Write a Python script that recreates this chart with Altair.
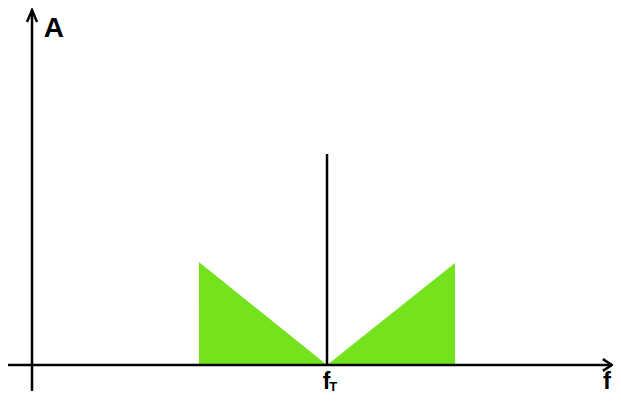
import altair as alt
import pandas as pd

# Logical units: frequency in multiples of fT, amplitude relative to the carrier line
fT = 1.0
carrier_amp = 1.0
# sideband triangles
left_f = [0.566, 1.0]
left_a = [0.488, 0.0]
right_f = [1.0, 1.434]
right_a = [0.0, 0.483]

# axes (with arrow heads)
x_axis_u = [-0.085, 1.966]
y_axis_v = [-0.123, 1.682]
x_head_u = [1.935, 1.966, 1.935]
x_head_v = [0.028, 0.0, -0.028]
y_head_u = [-0.017, 0.0, 0.017]
y_head_v = [1.626, 1.682, 1.626]

labels = ["A", "f", "f", "T"]
label_u = [0.040, 1.936, 0.986, 1.008]
label_v = [1.556, -0.112, -0.112, -0.121]
label_size = [28, 24, 23, 13]

X = alt.Scale(domain=[-0.0814, 1.9695])
Y = alt.Scale(domain=[-0.1422, 1.692])

tri = pd.DataFrame({
    "f": left_f + right_f,
    "a": left_a + right_a,
    "g": ["L", "L", "R", "R"],
})

segs = []
def add(name, us, vs):
    for i, (u, v) in enumerate(zip(us, vs)):
        segs.append({"seg": name, "i": i, "u": u, "v": v})

add("xaxis", x_axis_u, [0.0, 0.0])
add("yaxis", [0.0, 0.0], y_axis_v)
add("xhead", x_head_u, x_head_v)
add("yhead", y_head_u, y_head_v)
add("carrier", [fT, fT], [0.0, carrier_amp])
lines = pd.DataFrame(segs)

txt = pd.DataFrame({"t": labels, "u": label_u, "v": label_v, "s": label_size})

area = alt.Chart(tri).mark_area(color="#74E31E", opacity=1).encode(
    x=alt.X("f:Q", scale=X, axis=None),
    y=alt.Y("a:Q", scale=Y, axis=None, stack=None),
    detail="g:N",
)

line = alt.Chart(lines).mark_line(color="black", strokeWidth=2.5, strokeCap="butt").encode(
    x=alt.X("u:Q", scale=X, axis=None),
    y=alt.Y("v:Q", scale=Y, axis=None),
    detail="seg:N",
    order="i:O",
)

text = alt.Chart(txt).mark_text(
    font="Liberation Sans", fontWeight="bold", align="left", baseline="alphabetic", color="black"
).encode(
    x=alt.X("u:Q", scale=X, axis=None),
    y=alt.Y("v:Q", scale=Y, axis=None),
    text="t:N",
    size=alt.Size("s:Q", scale=None, legend=None),
)

chart = alt.layer(area, line, text).properties(
    width=605, height=387, padding=0,
    autosize=alt.AutoSizeParams(type="none"),
).configure_view(stroke=None)

chart.save("out.html", embed_options={"renderer": "svg", "actions": False})
